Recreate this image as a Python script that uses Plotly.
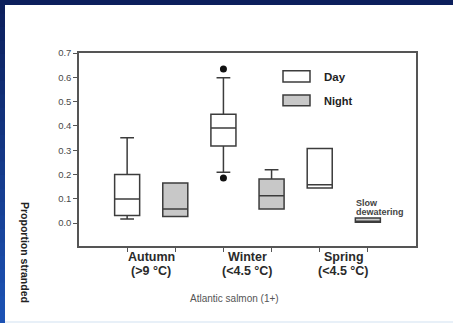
import plotly.graph_objects as go

# ---- data ----
seasons = ["Autumn", "Winter", "Spring"]
temps = ["(&gt;9 °C)", "(&lt;4.5 °C)", "(&lt;4.5 °C)"]
day_pos = [0, 2, 4]
night_pos = [1, 3, 5]

day_lower = [0.017, 0.209, 0.145]
day_q1 = [0.031, 0.317, 0.145]
day_median = [0.099, 0.391, 0.158]
day_q3 = [0.200, 0.448, 0.307]
day_upper = [0.351, 0.598, 0.307]

night_lower = [0.027, 0.058, 0.004]
night_q1 = [0.027, 0.058, 0.004]
night_median = [0.058, 0.113, 0.004]
night_q3 = [0.165, 0.182, 0.021]
night_upper = [0.165, 0.220, 0.021]

outlier_x = [2, 2]
outlier_y = [0.634, 0.186]

ytick_vals = [0.0, 0.1, 0.2, 0.3, 0.4, 0.5, 0.6, 0.7]
ytick_text = ["0.0", "0.1", "0.2", "0.3", "0.4", "0.5", "0.6", "0.7"]

# ---- layout constants (pixels) ----
W, H = 453, 323
L, R, T, B = 79, 416, 53, 246
PW, PH = R - L, B - T


def px(x):
    return (x - L) / PW


def py(y):
    return (B - y) / PH


LINE = "#3c3c3c"
FONT = "Liberation Sans, Arial, sans-serif"

fig = go.Figure()
fig.add_trace(go.Box(
    x=day_pos, q1=day_q1, median=day_median, q3=day_q3,
    lowerfence=day_lower, upperfence=day_upper,
    width=0.52, whiskerwidth=0.55, fillcolor="white",
    line=dict(color=LINE, width=1.5), boxpoints=False, name="Day",
    showlegend=False,
))
fig.add_trace(go.Box(
    x=night_pos, q1=night_q1, median=night_median, q3=night_q3,
    lowerfence=night_lower, upperfence=night_upper,
    width=0.52, whiskerwidth=0.55, fillcolor="#c8c8c8",
    line=dict(color=LINE, width=1.5), boxpoints=False, name="Night",
    showlegend=False,
))
fig.add_trace(go.Scatter(
    x=outlier_x, y=outlier_y, mode="markers",
    marker=dict(color="#111111", size=7), showlegend=False,
))

shapes = []
# left blue strip: navy at top fading to brighter blue
top_c = (12, 31, 92)
bot_c = (28, 82, 180)
n = 24
for i in range(n):
    f = i / (n - 1)
    c = tuple(int(round(top_c[k] + (bot_c[k] - top_c[k]) * f)) for k in range(3))
    shapes.append(dict(type="rect", xref="paper", yref="paper",
                       x0=px(0), x1=px(5),
                       y0=py(min(H, H * (i + 1) / n + 1)), y1=py(H * i / n),
                       fillcolor=f"rgb{c}", line_width=0, layer="below"))
shapes.append(dict(type="rect", xref="paper", yref="paper",
                   x0=px(0), x1=px(W), y0=py(5), y1=py(0),
                   fillcolor="#0c1f5c", line_width=0, layer="below"))
shapes.append(dict(type="rect", xref="paper", yref="paper",
                   x0=px(5), x1=px(W), y0=py(H), y1=py(321),
                   fillcolor="#e8f0f8", line_width=0, layer="below"))
# legend boxes
shapes.append(dict(type="rect", xref="paper", yref="paper",
                   x0=px(283), x1=px(310), y0=py(82), y1=py(70.7),
                   fillcolor="white", line=dict(color=LINE, width=1.5)))
shapes.append(dict(type="rect", xref="paper", yref="paper",
                   x0=px(283), x1=px(310), y0=py(105.7), y1=py(95),
                   fillcolor="#c8c8c8", line=dict(color=LINE, width=1.5)))

annotations = []


def ann(text, x, y, size, color, xanchor="center", xref="paper", angle=0):
    annotations.append(dict(x=x, y=y, xref=xref, yref="paper", text=text,
                            showarrow=False, xanchor=xanchor, yanchor="middle",
                            textangle=angle,
                            font=dict(size=size, color=color, family=FONT)))


for i, (s, t) in enumerate(zip(seasons, temps)):
    xc = (day_pos[i] + night_pos[i]) / 2
    ann(f"<b>{s}</b>", xc, py(257), 12.5, "#2a2a2a", xref="x")
    ann(f"<b>{t}</b>", xc, py(270.5), 12.5, "#2a2a2a", xref="x")

ann("<b>Day</b>", px(322), py(76.5), 11.5, "#222", xanchor="left")
ann("<b>Night</b>", px(322), py(100.5), 11, "#222", xanchor="left")
ann("<b>Slow</b>", px(354), py(203), 9, "#444", xanchor="left")
ann("<b>dewatering</b>", px(354), py(212), 9, "#444", xanchor="left")
ann("<b>Proportion stranded</b>", px(25), py(252), 10.5, "#222", angle=90)
ann("Atlantic salmon (1+)", px(234), py(298), 10, "#555")

fig.update_layout(
    width=W, height=H,
    margin=dict(l=L, r=W - R, t=T, b=H - B, pad=0),
    paper_bgcolor="white", plot_bgcolor="white",
    shapes=shapes, annotations=annotations,
    boxmode="overlay",
    xaxis=dict(range=[-1, 6], tickvals=day_pos + night_pos, ticktext=[""] * 6,
               ticks="outside", ticklen=4, tickcolor="#555", tickwidth=1.2,
               showline=True, linecolor="#555", linewidth=1.5, mirror=True,
               showgrid=False, zeroline=False, fixedrange=True),
    yaxis=dict(range=[-0.094, 0.7], tickvals=ytick_vals, ticktext=ytick_text,
               ticks="outside", ticklen=4, tickcolor="#555", tickwidth=1.2,
               showline=True, linecolor="#555", linewidth=1.5, mirror=True,
               showgrid=False, zeroline=False, fixedrange=True,
               tickfont=dict(size=9.5, color="#4a4a4a", family=FONT)),
    font=dict(family=FONT),
)

fig.write_html("out.html", config={"displayModeBar": False},
               post_script="document.body.style.margin='0';document.body.style.padding='0';")
